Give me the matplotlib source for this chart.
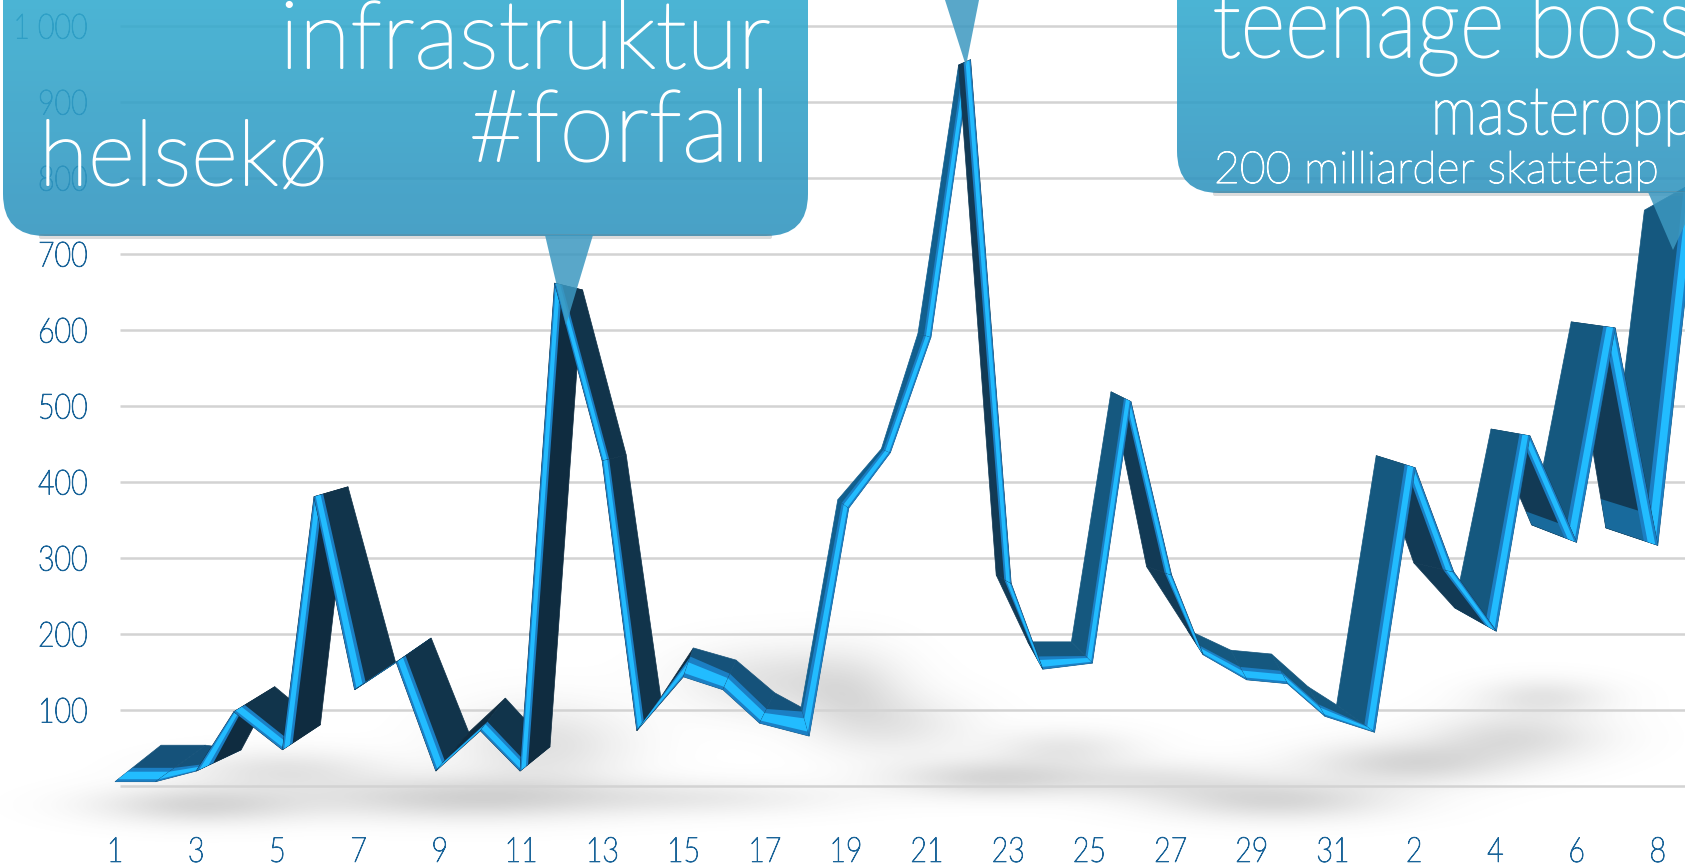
import numpy as np
import matplotlib
matplotlib.use('Agg')
import matplotlib.pyplot as plt
from matplotlib.patches import FancyBboxPatch, Polygon
from matplotlib.patheffects import AbstractPathEffect
from matplotlib.transforms import Affine2D

# bright front line, and the back edge of the 3D ribbon
values = [5, 5, 19, 97, 47, 380, 126, 162, 19, 72, 19, 661, 427, 72, 143, 126, 82, 65, 365, 438,
          590, 955, 266, 153, 161, 505, 277, 172, 139, 134, 91, 70, 418, 281, 203, 460, 320, 602, 316, 797]
back_values = [53, 53, 47, 130, 80, 393, 162, 194, 70, 115, 51, 652, 435, 116, 181, 165, 122, 103, 376, 443,
               595, 948, 277, 189, 189, 518, 288, 205, 178, 173, 130, 106, 434, 293, 234, 469, 343, 610, 339, 757]
# perspective shifts in pixels
front_dx = [0, 0, 0, -3, 5, -4, -4, -3, -4, 0, -1, -7, 0, -6, 0, -1, -5, 4, 3, 4,
            4, 3, 3, -6, 3, 1, 1, -8, -5, -5, -8, 1, 1, -1, 1, -6, 0, -2, 0, 0]
back_dx = [46, 50, 45, 38, 43, 30, 37, 32, 29, 25, 29, 21, 24, 18, 10, 12, 10, -4, -8, -5,
           -9, -9, -12, -21, -18, -19, -24, -24, -21, -21, -25, -37, -38, -41, -41, -45, -45, -46, -52, -54]
tick_pos = list(range(0, 39, 2))
tick_labels = ['1', '3', '5', '7', '9', '11', '13', '15', '17', '19', '21', '23', '25', '27', '29', '31',
               '2', '4', '6', '8']
y_ticks = [100, 200, 300, 400, 500, 600, 700, 800, 900, 1000]
y_labels = ['100', '200', '300', '400', '500', '600', '700', '800', '900', '1 000']

W, H = 1685, 865
STEP = 40.6
X0 = 115
Y0 = 785.5
PX_PER_VAL = 0.76

plt.rcParams['font.family'] = ['Lato', 'DejaVu Sans']


class Squeeze(AbstractPathEffect):
    # narrows a text around one side, the reference font is condensed
    def __init__(self, sx=1.0, side='center', lw=0):
        super().__init__()
        self.sx = sx
        self.side = side
        self.lw = lw

    def draw_path(self, renderer, gc, tpath, affine, rgbFace=None):
        ext = tpath.get_extents()
        pivot = {'left': ext.x0, 'right': ext.x1, 'center': (ext.x0 + ext.x1) / 2}[self.side]
        a = Affine2D().translate(-pivot, 0).scale(self.sx, 1).translate(pivot, 0) + affine
        gc0 = renderer.new_gc()
        gc0.copy_properties(gc)
        gc0.set_linewidth(self.lw)
        if self.lw:
            gc0.set_foreground(rgbFace)
        renderer.draw_path(gc0, tpath, a, rgbFace)
        gc0.restore()


fig = plt.figure(figsize=(W / 100, H / 100), dpi=100, facecolor='white')
ax = fig.add_axes([0, 0, 1, 1])

# soft floor shadows (x, y, sx, sy, strength)
blobs = [(200, 805, 72, 13, .24), (282, 770, 70, 14, .16), (460, 798, 105, 15, .26), (542, 745, 60, 28, .18),
         (694, 798, 100, 12, .12), (770, 680, 60, 24, .16), (850, 695, 40, 30, .16), (903, 725, 50, 22, .12),
         (994, 778, 70, 13, .24), (1063, 748, 50, 13, .14), (1160, 780, 70, 13, .14), (1276, 800, 80, 14, .24),
         (1409, 763, 70, 15, .24), (1515, 737, 60, 17, .2), (1542, 697, 45, 13, .16)]
gx, gy = np.meshgrid(np.arange(0, W, 2), np.arange(0, H, 2))
shade = np.zeros(gx.shape)
for bx, by, sx, sy, amp in blobs:
    shade += amp * np.exp(-((gx - bx) / sx) ** 2 / 2 - ((gy - by) / sy) ** 2 / 2)
shade = np.clip(shade, 0, .35)
rgba = np.zeros(gx.shape + (4,))
rgba[..., :3] = 0.35
rgba[..., 3] = shade


def px2x(p):
    return (p - X0) / STEP


def px2y(p):
    return (Y0 - p) / PX_PER_VAL


ax.imshow(rgba, extent=[px2x(0), px2x(W), px2y(H), px2y(0)], aspect='auto', zorder=1, interpolation='bilinear')
ax.hlines([0] + y_ticks, px2x(120), px2x(W), color='#d3d3d3', lw=1.8, zorder=2)

xs = np.arange(len(values)) + np.array(front_dx) / STEP
ys = np.array(values, dtype=float)
bxs = np.arange(len(values)) + np.array(back_dx) / STEP
bys = np.array(back_values, dtype=float)
# bevel width: a share of the depth, but never thinner than a few pixels
off = np.abs(np.array(back_dx) - np.array(front_dx)).clip(1)
f1 = np.minimum(np.maximum(.27, 7 / off), .85)
f1[:3] = .38
f2 = f1 * .72
s1x, s1y = xs + f1 * (bxs - xs), ys + f1 * (bys - ys)
s2x, s2y = xs + f2 * (bxs - xs), ys + f2 * (bys - ys)
e_x, e_y = xs + f2 * .25 * (bxs - xs), ys + f2 * .25 * (bys - ys)


def wall_color(i):
    dv = values[i + 1] - values[i]
    if 17 <= i <= 20:
        return '#125f8e'
    if i < 21:
        if abs(dv) < 50:
            return '#15527a'
        return '#0f2c40' if dv > 0 else '#11344b'
    if abs(dv) < 50:
        return '#15587f'
    return '#15587f' if dv > 0 else '#123a55'


n = len(values) - 1
order = list(range(0, 21)) + list(range(n - 1, 20, -1))
z = 3
for i in order:
    j = i + 1
    c = wall_color(i)
    ax.add_patch(Polygon([(xs[i], ys[i]), (xs[j], ys[j]), (bxs[j], bys[j]), (bxs[i], bys[i])],
                         closed=True, fc=c, ec=c, lw=.5, zorder=z))
    if i in (35, 37):
        # lighter foot of the two falling walls at the right
        t = .86
        p, q = (xs[i] + t * (xs[j] - xs[i]), ys[i] + t * (ys[j] - ys[i])), (bxs[i] + t * (bxs[j] - bxs[i]), bys[i] + t * (bys[j] - bys[i]))
        ax.add_patch(Polygon([p, (xs[j], ys[j]), (bxs[j], bys[j]), q], closed=True, fc='#186a9c', ec='none', zorder=z + .05))
    ax.add_patch(Polygon([(xs[i], ys[i]), (xs[j], ys[j]), (s1x[j], s1y[j]), (s1x[i], s1y[i])],
                         closed=True, fc='#1b7fc4', ec='none', zorder=z + .1))
    ax.add_patch(Polygon([(e_x[i], e_y[i]), (e_x[j], e_y[j]), (s2x[j], s2y[j]), (s2x[i], s2y[i])],
                         closed=True, fc='#22bcff', ec='none', zorder=z + .2))
    z += 1

ax.set_xlim(px2x(0), px2x(W))
ax.set_ylim(px2y(H), px2y(0))
ax.set_xticks(tick_pos, tick_labels)
ax.set_yticks(y_ticks, y_labels)
ax.tick_params(axis='x', length=0, pad=-21, labelsize=25, labelcolor='#1a6499')
ax.tick_params(axis='y', length=0, pad=-63.4, labelsize=25, labelcolor='#1a6499')
for s in ax.spines.values():
    s.set_visible(False)
ax.set_facecolor('none')
for lab in ax.get_xticklabels():
    lab.set_zorder(200)
    lab.set_fontweight('light')
    lab.set_path_effects([Squeeze(.82, 'center', lw=.7)])
for lab in ax.get_yticklabels():
    lab.set_zorder(200)
    lab.set_fontweight('light')
    lab.set_path_effects([Squeeze(.82, 'right', lw=.7)])

# speech bubbles on a pixel-coordinate overlay
ov = fig.add_axes([0, 0, 1, 1], zorder=5)
ov.set_xlim(0, W)
ov.set_ylim(H, 0)
ov.axis('off')


def bubble(x0, x1, y1, tail):
    ov.add_patch(FancyBboxPatch((x0 + 36, y1 - 2), x1 - x0 - 72, 5, boxstyle='round,pad=0,rounding_size=2',
                                fc='#777777', ec='none', alpha=.25))
    box = FancyBboxPatch((x0, -80), x1 - x0, y1 + 80, boxstyle='round,pad=0,rounding_size=42',
                         fc='none', ec='none')
    ov.add_patch(box)
    grad = np.linspace(0, 1, 256)[:, None, None]
    top = np.array([.20, .67, .81])
    bottom = np.array([.19, .58, .75])
    img = top + (bottom - top) * grad
    im = ov.imshow(img, extent=[x0, x1, y1, 0], aspect='auto', alpha=.88)
    im.set_clip_path(box)
    ov.add_patch(Polygon(tail, closed=True, fc='#3c98c0', ec='none', alpha=.85))


bubble(3, 808, 236, [(545, 235), (593, 235), (566, 325)])
bubble(1177, 1760, 193, [(1648, 192), (1700, 192), (1673, 250)])
ov.add_patch(Polygon([(945, 0), (979, 0), (966, 66)], closed=True, fc='#3c98c0', ec='none', alpha=.85))
ov.set_xlim(0, W)
ov.set_ylim(H, 0)

tf = ['Lato', 'DejaVu Sans']
big = [Squeeze(1, 'left', lw=1.4)]
ov.text(771, 68, 'infrastruktur', color='white', ha='right', va='baseline', size=68, family=tf, weight='light', path_effects=big)
ov.text(771, 161, '#forfall', color='white', ha='right', va='baseline', size=72, family=tf, weight='light', path_effects=big)
ov.text(39, 185, 'helsekø', color='white', ha='left', va='baseline', size=65, family=tf, weight='light', path_effects=big)
ov.text(1212, 57, 'teenage boss', color='white', ha='left', va='baseline', size=72, family=tf, weight='light',
        path_effects=[Squeeze(.86, 'left', lw=1.4)])
ov.text(1430, 134, 'masteropp', color='white', ha='left', va='baseline', size=48, family=tf, weight='light',
        path_effects=[Squeeze(.88, 'left', lw=1.2)])
ov.text(1214, 183, '200 milliarder skattetap', color='white', ha='left', va='baseline', size=32, family=tf, weight='light',
        path_effects=[Squeeze(1, 'left', lw=.8)])

fig.savefig('out.png', dpi=100)
